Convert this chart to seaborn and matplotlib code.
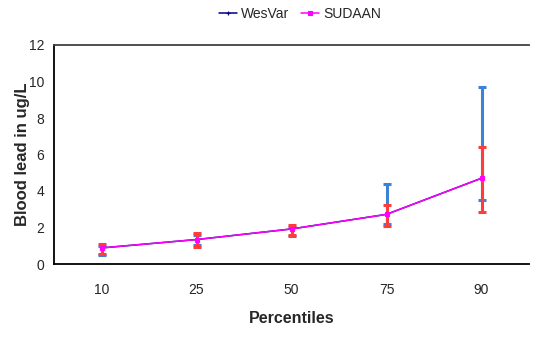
import numpy as np
import pandas as pd
import matplotlib
matplotlib.use("Agg")
import matplotlib.pyplot as plt
import seaborn as sns

# данные
percentiles = ["10", "25", "50", "75", "90"]
wesvar = [0.88, 1.34, 1.92, 2.72, 4.70]
sudaan = [0.88, 1.34, 1.92, 2.72, 4.70]
wesvar_lo = [0.47, 1.05, 1.54, 2.19, 3.50]
wesvar_hi = [1.00, 1.58, 2.05, 4.37, 9.71]
sudaan_lo = [0.56, 0.95, 1.57, 2.08, 2.83]
sudaan_hi = [1.10, 1.68, 2.14, 3.25, 6.43]

df = pd.DataFrame({
    "Percentiles": percentiles * 2,
    "value": wesvar + sudaan,
    "method": ["WesVar"] * 5 + ["SUDAAN"] * 5,
})

sns.set_style("white")
plt.rcParams["font.family"] = ["Liberation Sans", "DejaVu Sans"]

fig = plt.figure(figsize=(5.37, 3.37), dpi=100)
ax = fig.add_axes([54 / 537, 1 - 264 / 337, 475 / 537, 219 / 337])

pos = np.arange(len(percentiles))

# доверительные интервалы
ax.errorbar(pos, wesvar, yerr=[np.array(wesvar) - wesvar_lo, np.array(wesvar_hi) - wesvar],
            fmt="none", ecolor="#3c82d8", elinewidth=2.2, capsize=3, capthick=2.2, zorder=2)
ax.errorbar(pos, sudaan, yerr=[np.array(sudaan) - sudaan_lo, np.array(sudaan_hi) - sudaan],
            fmt="none", ecolor="#ff3c3c", elinewidth=2.2, capsize=3, capthick=2.2, zorder=3)

sns.pointplot(data=df, x="Percentiles", y="value", hue="method", order=percentiles,
              palette={"WesVar": "#000080", "SUDAAN": "#ff00ff"},
              markers=["+", "s"], linestyles=["-", "-"], errorbar=None,
              markersize=3, linewidth=1.1, ax=ax, zorder=4)

ax.set_ylim(0, 12)
ax.set_yticks(range(0, 13, 2))
ax.set_xlim(-0.5, 4.5)
ax.set_xticks(np.arange(-0.5, 5, 1))
ax.set_xticklabels([])
ax.set_xticks(pos, minor=True)
ax.set_xticklabels(percentiles, minor=True)
ax.tick_params(axis="x", which="major", direction="out", length=5, width=1, color="black")
ax.tick_params(axis="x", which="minor", length=0, pad=14, labelsize=10)
ax.tick_params(axis="y", direction="out", length=4, width=1, color="black", labelsize=10, pad=3)

for s in ["left", "bottom"]:
    ax.spines[s].set_color("black")
    ax.spines[s].set_linewidth(1.3)
ax.spines["top"].set_color("#404040")
ax.spines["top"].set_linewidth(1.3)
ax.spines["right"].set_visible(False)

ax.set_xlabel("Percentiles", fontsize=11.5, fontweight="bold", labelpad=10)
ax.set_ylabel("Blood lead in ug/L", fontsize=12, fontweight="bold", labelpad=-1)

h, l = ax.get_legend_handles_labels()
ax.legend(h, l, loc="center", bbox_to_anchor=(300 / 537, 1 - 14 / 337),
          bbox_transform=fig.transFigure, ncol=2, frameon=False, fontsize=10,
          handlelength=1.3, handletextpad=0.3, columnspacing=0.8)

fig.savefig("out.png", dpi=100)
